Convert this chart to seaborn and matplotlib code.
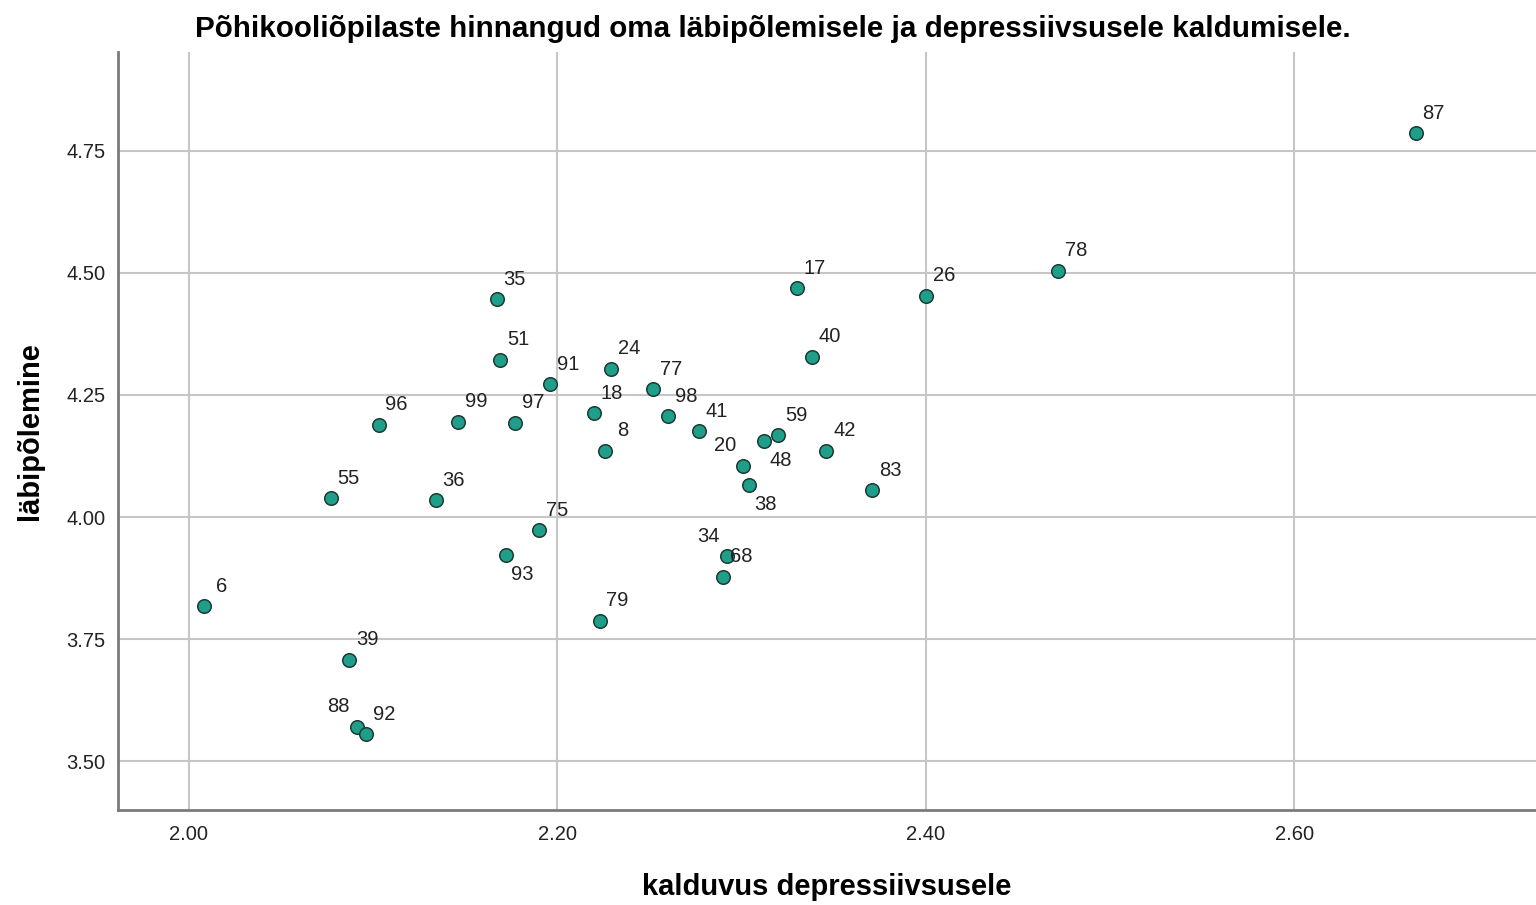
import seaborn as sns
import pandas as pd
import matplotlib.pyplot as plt

# Data (case number, tendency to depression, burnout)
case_ids = [87, 78, 26, 17, 40, 35, 51, 24, 91, 77, 18, 98, 96, 99, 97, 41, 59,
            48, 42, 20, 8, 38, 83, 55, 36, 75, 93, 34, 68, 6, 79, 39, 88, 92]
depression = [2.666, 2.472, 2.400, 2.330, 2.338, 2.167, 2.169, 2.229, 2.196,
              2.252, 2.220, 2.260, 2.103, 2.146, 2.177, 2.277, 2.320, 2.312,
              2.346, 2.301, 2.226, 2.304, 2.371, 2.077, 2.134, 2.190, 2.172,
              2.292, 2.290, 2.008, 2.223, 2.087, 2.091, 2.096]
burnout = [4.786, 4.504, 4.453, 4.468, 4.328, 4.446, 4.322, 4.304, 4.272,
           4.262, 4.213, 4.206, 4.189, 4.195, 4.193, 4.176, 4.168, 4.156,
           4.136, 4.105, 4.136, 4.066, 4.055, 4.039, 4.035, 3.973, 3.923,
           3.920, 3.878, 3.818, 3.788, 3.708, 3.571, 3.556]

x_ticks = [2.00, 2.20, 2.40, 2.60]
y_ticks = [3.50, 3.75, 4.00, 4.25, 4.50, 4.75]

df = pd.DataFrame({'id': case_ids, 'x': depression, 'y': burnout})

# where each point label sits (pixels from the point)
label_offsets = {'ur': (18, 20), 'ul': (-18, 20), 'lr': (17, -20)}
label_side = {93: 'lr', 38: 'lr', 48: 'lr', 20: 'ul', 88: 'ul', 34: 'ul'}

sns.set_style("white")
plt.rcParams['font.family'] = ['Liberation Sans', 'DejaVu Sans']

fig = plt.figure(figsize=(15.36, 9.05), dpi=100)
ax = fig.add_axes([0.0768, 0.105, 0.9232, 0.8376])

sns.scatterplot(data=df, x='x', y='y', ax=ax, s=95, color='#1f9e89',
                edgecolor='#1c3b35', linewidth=1.1, zorder=3)

for _, row in df.iterrows():
    dx, dy = label_offsets[label_side.get(row['id'], 'ur')]
    ax.annotate(str(int(row['id'])), xy=(row['x'], row['y']), xytext=(dx, dy),
                textcoords='offset pixels', ha='center', va='center',
                fontsize=14.5, color='#222222', zorder=4)

ax.set_xlim(1.9615, 2.7313)
ax.set_ylim(3.4008, 4.9519)
ax.set_xticks(x_ticks)
ax.set_yticks(y_ticks)
ax.set_xticklabels([f'{v:.2f}' for v in x_ticks])
ax.set_yticklabels([f'{v:.2f}' for v in y_ticks])
ax.tick_params(length=0, labelsize=14.5, colors='#222222')
ax.tick_params(axis='x', pad=11)
ax.tick_params(axis='y', pad=9)

ax.grid(True, color='#c6c6c6', linewidth=1.5)
ax.set_axisbelow(True)
for side in ['top', 'right']:
    ax.spines[side].set_visible(False)
for side in ['left', 'bottom']:
    ax.spines[side].set_color('#7a7a7a')
    ax.spines[side].set_linewidth(2)

ax.set_xlabel('kalduvus depressiivsusele', fontsize=21, fontweight='bold',
              labelpad=21, color='black')
ax.set_ylabel('läbipõlemine', fontsize=21, fontweight='bold', labelpad=16,
              color='black')
fig.suptitle('Põhikooliõpilaste hinnangud oma läbipõlemisele ja depressiivsusele kaldumisele.',
             x=0.503, y=0.983, fontsize=21.3, fontweight='bold', va='top',
             color='black')

fig.savefig('out.png', dpi=100)
